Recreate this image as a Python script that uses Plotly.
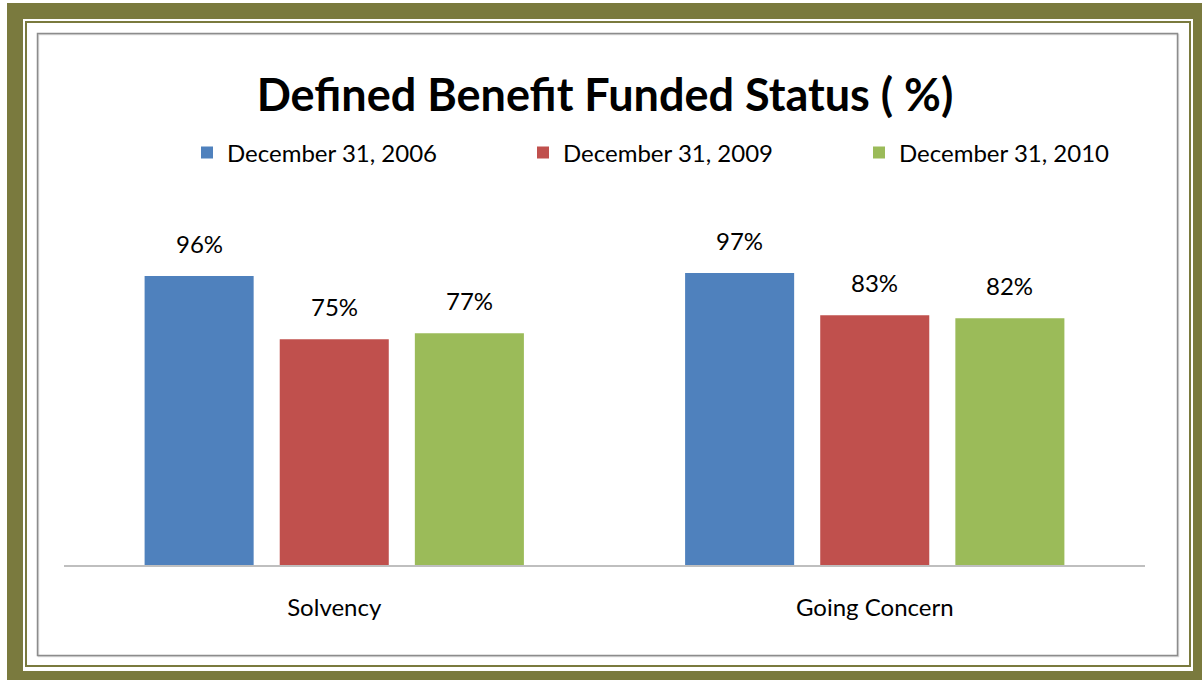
import plotly.graph_objects as go

# Chart data
categories = ["Solvency", "Going Concern"]
series_names = ["December 31, 2006", "December 31, 2009", "December 31, 2010"]
dec_2006 = [96, 97]
dec_2009 = [75, 83]
dec_2010 = [77, 82]
series_values = [dec_2006, dec_2009, dec_2010]
series_colors = ["#4F81BD", "#C0504D", "#9BBB59"]

W, H = 1202, 680
PLOT_L, PLOT_R, PLOT_T, PLOT_B = 64, 1145, 264, 565
FONT = "Lato, 'Open Sans', sans-serif"
OLIVE = "#7A7A3E"
BARGAP, GROUPGAP = 0.25, 0.193

fig = go.Figure()
for name, vals, color in zip(series_names, series_values, series_colors):
    fig.add_trace(go.Bar(
        x=categories, y=vals, name=name,
        marker=dict(color=color, line=dict(width=0)),
        cliponaxis=False,
    ))

# Value labels above each bar, offset to the bar's slot within its group
cat_px = (PLOT_R - PLOT_L) / len(categories)
slot_px = cat_px * (1 - BARGAP) / len(series_values)
annotations = []
for i, vals in enumerate(series_values):
    offset = (i - (len(series_values) - 1) / 2) * slot_px
    for cat, v in zip(categories, vals):
        annotations.append(dict(
            x=cat, y=v, xref="x", yref="y", text=f"{v}%", showarrow=False,
            xanchor="center", yanchor="bottom", xshift=offset, yshift=16,
            font=dict(family=FONT, size=24, color="#000000"),
        ))


def px_x(x):
    return (x - PLOT_L) / (PLOT_R - PLOT_L)


def px_y(y):
    return (PLOT_B - y) / (PLOT_B - PLOT_T)


def frame(x0, y0, x1, y1, color, width):
    return dict(type="rect", xref="paper", yref="paper", layer="above",
                x0=px_x(x0), x1=px_x(x1), y0=px_y(y1), y1=px_y(y0),
                line=dict(color=color, width=width), fillcolor="rgba(0,0,0,0)")


shapes = [
    frame(15, 11, 1201, 679, OLIVE, 16),
    frame(26, 22, 1190, 666, OLIVE, 2),
    frame(38.5, 34.5, 1178.5, 656.5, "#D9D9D9", 1.5),
    frame(37.5, 33.5, 1177.5, 655.5, "#8C8C8C", 1.5),
]

fig.update_layout(
    width=W, height=H,
    margin=dict(l=PLOT_L, r=W - PLOT_R, t=PLOT_T, b=H - PLOT_B, autoexpand=False),
    paper_bgcolor="#FFFFFF", plot_bgcolor="#FFFFFF",
    barmode="group", bargap=BARGAP, bargroupgap=GROUPGAP,
    font=dict(family=FONT, size=24, color="#000000"),
    title=dict(text="<b>Defined Benefit Funded Status ( %)</b>",
               xref="container", yref="container",
               x=605 / W, xanchor="center", y=1 - 95 / H, yanchor="middle",
               font=dict(family=FONT, size=45, color="#000000")),
    legend=dict(orientation="h", xref="container", yref="container",
                x=187 / W, xanchor="left", y=1 - 153 / H, yanchor="middle",
                entrywidth=291, entrywidthmode="pixels",
                font=dict(family=FONT, size=24, color="#000000"),
                bgcolor="rgba(0,0,0,0)"),
    xaxis=dict(showline=True, linecolor="#BFBFBF", linewidth=2,
               ticks="", showgrid=False, ticklabelstandoff=20,
               tickfont=dict(family=FONT, size=24, color="#000000")),
    yaxis=dict(range=[0, 100], visible=False, showgrid=False),
    shapes=shapes,
    annotations=annotations,
    showlegend=True,
)

fig.write_html("out.html")
